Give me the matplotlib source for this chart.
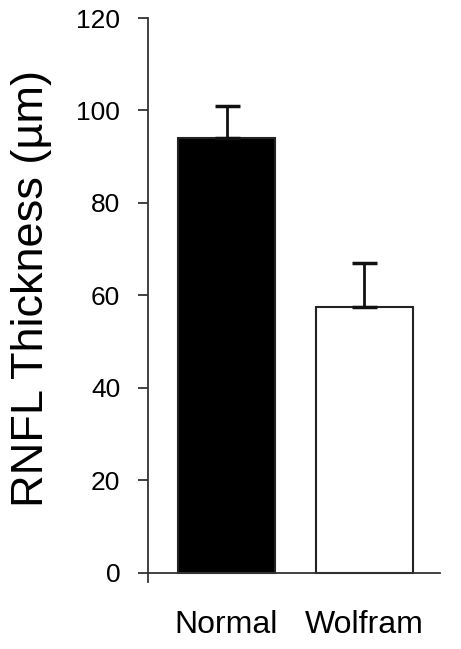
# RNFL 厚度柱状图

import numpy as np
import matplotlib.pyplot as plt

plt.rcParams['font.family'] = ['Liberation Sans', 'DejaVu Sans']

# 数据
groups = ['Normal', 'Wolfram']
thickness = [94, 57.5]
sd = [7, 9.5]
colors = ['black', 'white']

fig = plt.figure(figsize=(4.61, 6.49), dpi=100)
ax = fig.add_axes([0.321, 1 - 582 / 649, 0.9544 - 0.321, (582 - 18) / 649])

x = np.arange(len(groups))
ax.bar(x, thickness, width=0.7, color=colors, edgecolor='#222222', linewidth=1.5, zorder=2)
ax.errorbar(x, thickness, yerr=[np.zeros(len(sd)), sd], fmt='none', ecolor='#111111',
            elinewidth=2, capsize=9, capthick=2.5, zorder=3)

ax.set_xlim(-0.569, 1.547)
ax.set_ylim(-2, 120)
ax.set_yticks(np.arange(0, 121, 20))
ax.set_xticks(x)
ax.set_xticklabels(groups)
ax.tick_params(axis='x', length=0, pad=27, labelsize=23)
ax.tick_params(axis='y', length=7, width=1.3, color='#333333', labelsize=19, pad=13)

ax.spines['top'].set_visible(False)
ax.spines['right'].set_visible(False)
ax.spines['bottom'].set_position(('data', 0))
for s in ['left', 'bottom']:
    ax.spines[s].set_linewidth(1.3)
    ax.spines[s].set_color('#333333')

ax.set_ylabel('RNFL Thickness (µm)', fontsize=32.5)
ax.yaxis.set_label_coords(-0.33, 0.52)

fig.savefig('out.png', dpi=100)
